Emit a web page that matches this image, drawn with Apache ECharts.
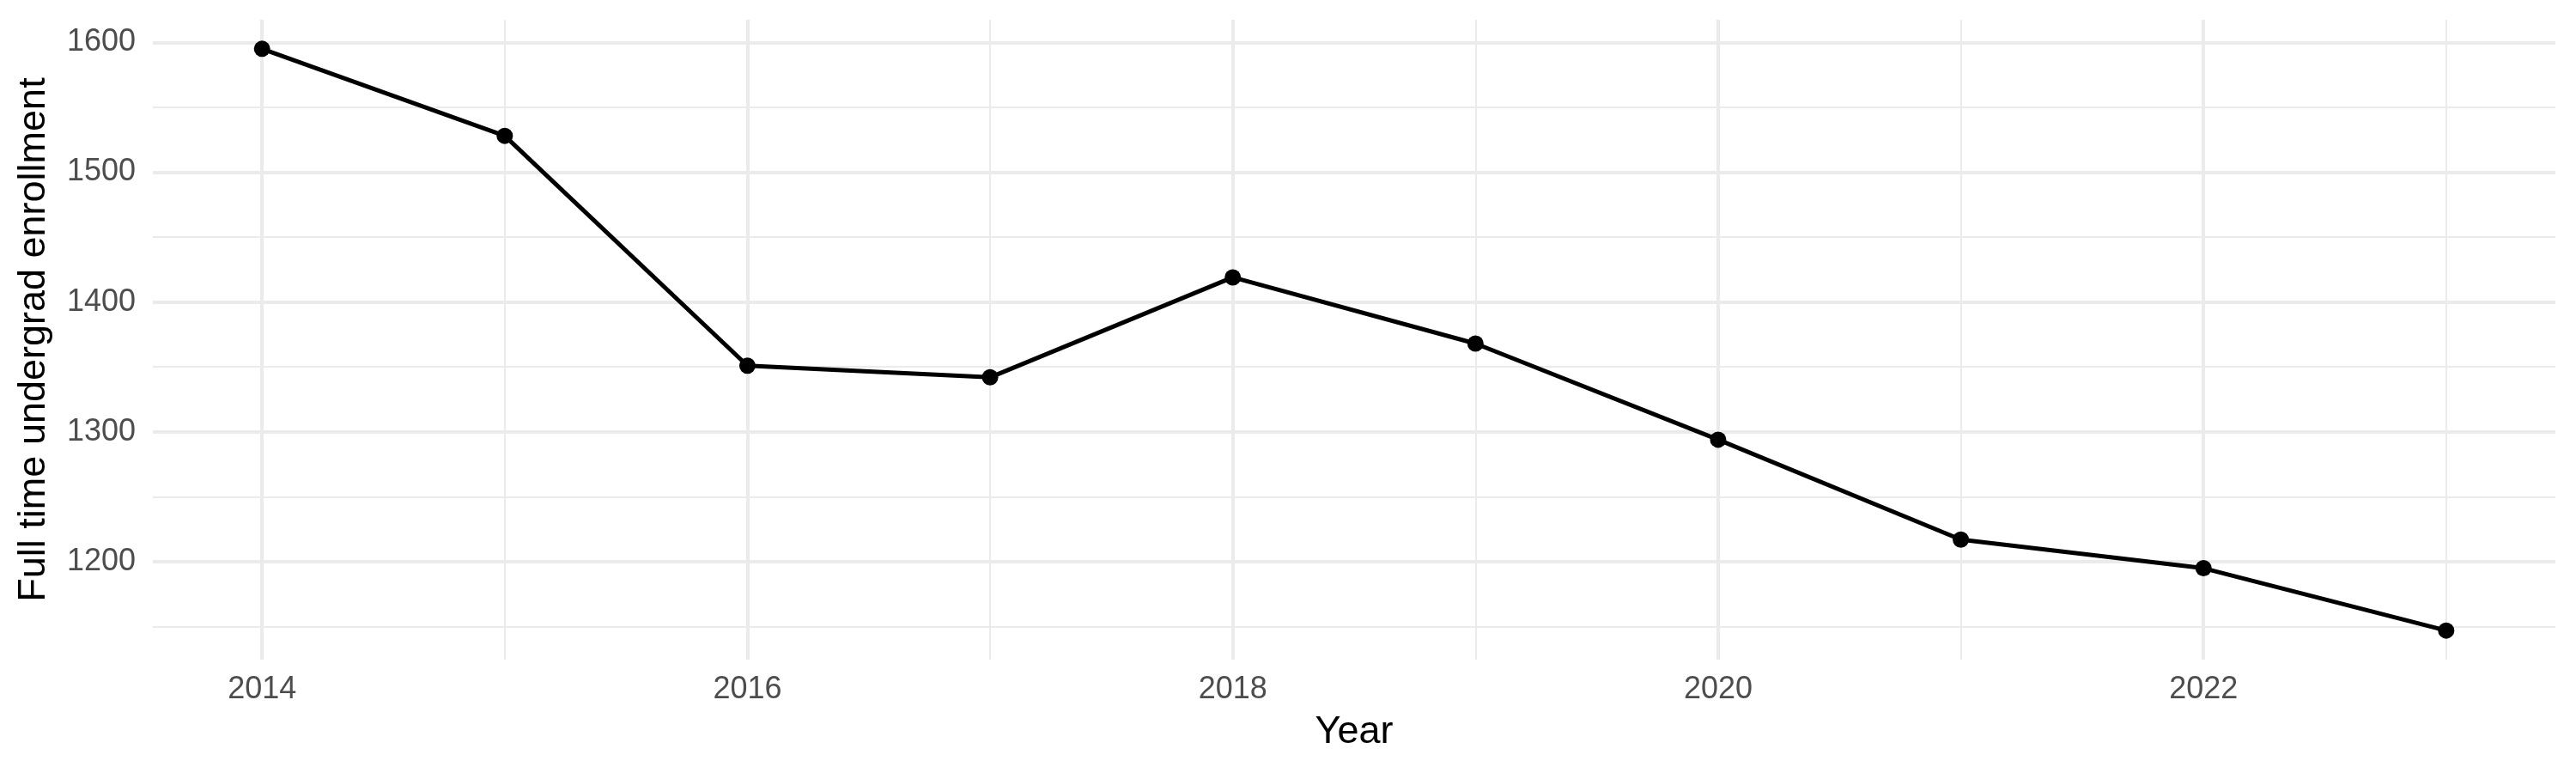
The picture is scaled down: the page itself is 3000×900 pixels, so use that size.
<!DOCTYPE html>
<html>
<head>
<meta charset="utf-8">
<script src="https://cdn.jsdelivr.net/npm/echarts@6/dist/echarts.min.js"></script>
<style>
  html, body { margin: 0; padding: 0; background: #fff; }
  #chart { width: 3000px; height: 900px; }
</style>
</head>
<body>
<div id="chart"></div>
<script>
// data
const years = [2014, 2015, 2016, 2017, 2018, 2019, 2020, 2021, 2022, 2023];
const enrollment = [1595, 1528, 1351, 1342, 1419, 1368, 1294, 1217, 1195, 1147];

// tick labels / grid lines
const xMajorTicks = [2014, 2016, 2018, 2020, 2022];
const xMinorTicks = [2015, 2017, 2019, 2021, 2023];
const yMajorTicks = [1200, 1300, 1400, 1500, 1600];
const yMinorTicks = [1150, 1250, 1350, 1450, 1550];

// ggplot style 5% expansion of the data range
const expand = (arr) => {
    const lo = Math.min(...arr);
    const hi = Math.max(...arr);
    const pad = (hi - lo) * 0.05;
    return [lo - pad, hi + pad];
};
const xRange = expand(years);
const yRange = expand(enrollment);

const FONT = 'Liberation Sans';
const GRID_COLOR = '#EBEBEB';

// grid lines go through the axes as markLines
const gridLines = (xs, ys, width) => ({
    type: 'line',
    data: [],
    z: 1,
    silent: true,
    markLine: {
        silent: true,
        symbol: 'none',
        animation: false,
        label: { show: false },
        emphasis: { disabled: true },
        lineStyle: { color: GRID_COLOR, width: width, type: 'solid' },
        data: xs.map(v => ({ xAxis: v })).concat(ys.map(v => ({ yAxis: v })))
    }
});

const getOption = () => {
    return {
        animation: false,
        backgroundColor: '#fff',
        grid: { left: 178, right: 24, top: 23, bottom: 132 },
        xAxis: {
            type: 'value',
            position: 'bottom',
            min: xRange[0],
            max: xRange[1],
            axisLine: { show: false },
            axisTick: { show: false },
            splitLine: { show: false },
            axisLabel: {
                customValues: xMajorTicks,
                formatter: v => String(v),
                margin: 17,
                color: '#4D4D4D',
                fontFamily: FONT,
                fontSize: 36
            },
            name: 'Year',
            nameLocation: 'middle',
            nameGap: 62,
            nameTextStyle: { color: '#000', fontFamily: FONT, fontSize: 45 }
        },
        yAxis: {
            type: 'value',
            position: 'left',
            min: yRange[0],
            max: yRange[1],
            axisLine: { show: false },
            axisTick: { show: false },
            splitLine: { show: false },
            axisLabel: {
                customValues: yMajorTicks,
                formatter: v => String(v),
                margin: 20,
                color: '#4D4D4D',
                fontFamily: FONT,
                fontSize: 36
            },
            name: 'Full time undergrad enrollment',
            nameLocation: 'middle',
            nameGap: 116,
            nameTextStyle: { color: '#000', fontFamily: FONT, fontSize: 45 }
        },
        series: [
            gridLines(xMinorTicks, yMinorTicks, 2),
            gridLines(xMajorTicks, yMajorTicks, 4),
            {
                type: 'line',
                z: 5,
                data: years.map((y, i) => [y, enrollment[i]]),
                symbol: 'circle',
                symbolSize: 19,
                lineStyle: { color: '#000', width: 5 },
                itemStyle: { color: '#000' }
            }
        ]
    };
};

const chart = echarts.init(document.getElementById('chart'));
chart.setOption(getOption());
</script>
</body>
</html>
